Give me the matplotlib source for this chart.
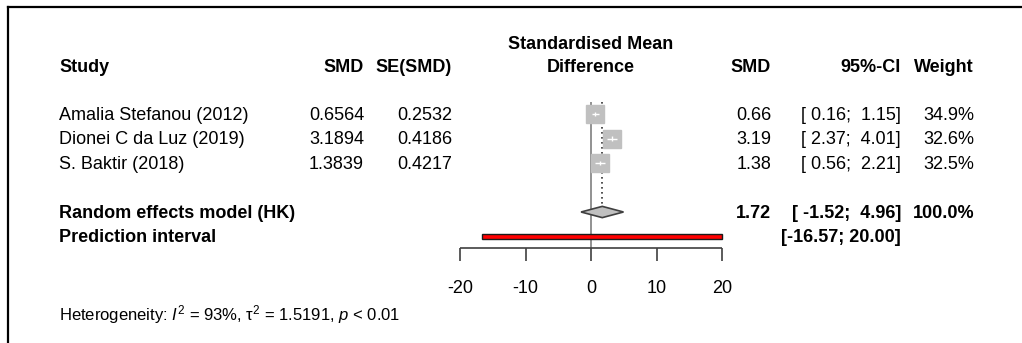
import numpy as np
import matplotlib
matplotlib.use("Agg")
import matplotlib.pyplot as plt
from matplotlib import transforms
from matplotlib.lines import Line2D

plt.rcParams['font.family'] = ['Liberation Sans', 'DejaVu Sans']
plt.rcParams['mathtext.fontset'] = 'custom'
plt.rcParams['mathtext.rm'] = 'Liberation Sans'
plt.rcParams['mathtext.it'] = 'Liberation Sans:italic'

# study data
studies = ['Amalia Stefanou (2012)', 'Dionei C da Luz (2019)', 'S. Baktir (2018)']
smd = [0.6564, 3.1894, 1.3839]
se = [0.2532, 0.4186, 0.4217]
ci_lo = [0.16, 2.37, 0.56]
ci_hi = [1.15, 4.01, 2.21]
weight = [34.9, 32.6, 32.5]

# pooled (random effects, HK) and prediction interval
re_est, re_lo, re_hi = 1.72, -1.52, 4.96
pi_lo, pi_hi = -16.57, 20.00

xticks = [-20, -10, 0, 10, 20]
het_text = r'Heterogeneity: $\mathit{I}^2$ = 93%, $\mathrm{\tau}^2$ = 1.5191, $\mathit{p}$ < 0.01'

W, H = 1022, 343
fig = plt.figure(figsize=(W / 100, H / 100), dpi=100)
ax = fig.add_axes([0, 0, 1, 1])
ax.set_axis_off()

# map data x -20..20 onto pixels 460..722, rows spaced 24.5 px, row 1 at y=114
ppu = (722 - 460) / 40.0
ax.set_xlim(-20 - 460 / ppu, 20 + (W - 722) / ppu)
rowpx = 24.5
ax.set_ylim(1 + (H - 114) / rowpx, 1 - 114 / rowpx)

fx = lambda px: px / W
tr = transforms.blended_transform_factory(fig.transFigure, ax.transData)
fs = 13
dy = 0.06  # nudge text so caps sit centred on the row

# frame (left + top only visible)
fig.add_artist(Line2D([fx(8), fx(8)], [0, 1 - 7 / H], color='black', lw=1.6, transform=fig.transFigure))
fig.add_artist(Line2D([fx(8), 1], [1 - 7 / H, 1 - 7 / H], color='black', lw=1.6, transform=fig.transFigure))

rows = np.arange(1, len(studies) + 1)
row_re = len(studies) + 2
row_pi = row_re + 1
axis_row = row_pi + 0.47

# reference line at 0 and pooled dotted line
ax.vlines(0, 0.5, axis_row, color='#7f7f7f', lw=1.2, zorder=1)
ax.vlines(re_est, 0.5, row_re - 0.22, color='#333333', lw=1.2, linestyles=(0, (1, 2)), zorder=1)

# study squares
for r, m, lo, hi, w in zip(rows, smd, ci_lo, ci_hi, weight):
    ax.plot(m, r, marker='s', ms=13.5 * np.sqrt(w / 34.9), color='#c0c0c0', mec='#c0c0c0', zorder=3)
    ax.hlines(r, lo, hi, color='white', lw=1, zorder=4)
    ax.vlines(m, r - 0.1, r + 0.1, color='white', lw=1, zorder=4)

# pooled diamond
dh = 0.23
ax.fill([re_lo, re_est, re_hi, re_est], [row_re, row_re - dh, row_re, row_re + dh],
        facecolor='#c0c0c0', edgecolor='#404040', lw=1.2, zorder=3)

# prediction interval bar
ax.fill([pi_lo, pi_hi, pi_hi, pi_lo], [row_pi - 0.11, row_pi - 0.11, row_pi + 0.11, row_pi + 0.11],
        facecolor='#ff0000', edgecolor='#1a1a1a', lw=1.0, zorder=3)

# x axis
ax.hlines(axis_row, xticks[0], xticks[-1], color='#404040', lw=1.2)
ax.vlines(xticks, axis_row, axis_row + 0.55, color='#404040', lw=1.2)
for t in xticks:
    ax.text(t, axis_row + 1.58 + dy, str(t), ha='center', va='center', fontsize=fs)

# headers
ax.text(0, -1.9 + dy, 'Standardised Mean', ha='center', va='center', fontsize=fs, fontweight='bold')
ax.text(0, -0.97 + dy, 'Difference', ha='center', va='center', fontsize=fs, fontweight='bold')
hdr = [('Study', 59, 'left'), ('SMD', 364, 'right'), ('SE(SMD)', 452, 'right'),
       ('SMD', 771, 'right'), ('95%-CI', 901, 'right'), ('Weight', 974, 'right')]
for s, px, ha in hdr:
    ax.text(fx(px), -0.97 + dy, s, transform=tr, ha=ha, va='center', fontsize=fs, fontweight='bold')

# study rows
for r, name, m, s, lo, hi, w in zip(rows, studies, smd, se, ci_lo, ci_hi, weight):
    y = r + dy
    ax.text(fx(59), y, name, transform=tr, ha='left', va='center', fontsize=fs)
    ax.text(fx(364), y, f'{m:.4f}', transform=tr, ha='right', va='center', fontsize=fs)
    ax.text(fx(452), y, f'{s:.4f}', transform=tr, ha='right', va='center', fontsize=fs)
    ax.text(fx(771), y, f'{m:.2f}', transform=tr, ha='right', va='center', fontsize=fs)
    ax.text(fx(901), y, f'[{lo:5.2f}; {hi:5.2f}]', transform=tr, ha='right', va='center', fontsize=fs)
    ax.text(fx(974), y, f'{w:.1f}%', transform=tr, ha='right', va='center', fontsize=fs)

# pooled rows
y = row_re + dy
ax.text(fx(59), y, 'Random effects model (HK)', transform=tr, ha='left', va='center',
        fontsize=fs, fontweight='bold')
ax.text(fx(771), y, f'{re_est:.2f}', transform=tr, ha='right', va='center', fontsize=fs, fontweight='bold')
ax.text(fx(901), y, f'[ {re_lo:5.2f}; {re_hi:5.2f}]', transform=tr, ha='right', va='center',
        fontsize=fs, fontweight='bold')
ax.text(fx(974), y, '100.0%', transform=tr, ha='right', va='center', fontsize=fs, fontweight='bold')
y = row_pi + dy
ax.text(fx(59), y, 'Prediction interval', transform=tr, ha='left', va='center',
        fontsize=fs, fontweight='bold')
ax.text(fx(901), y, f'[{pi_lo:.2f}; {pi_hi:.2f}]', transform=tr, ha='right', va='center',
        fontsize=fs, fontweight='bold')

ax.text(fx(59), axis_row + 2.65 + dy, het_text, transform=tr, ha='left', va='center', fontsize=12)

fig.savefig('out.png', dpi=100)
